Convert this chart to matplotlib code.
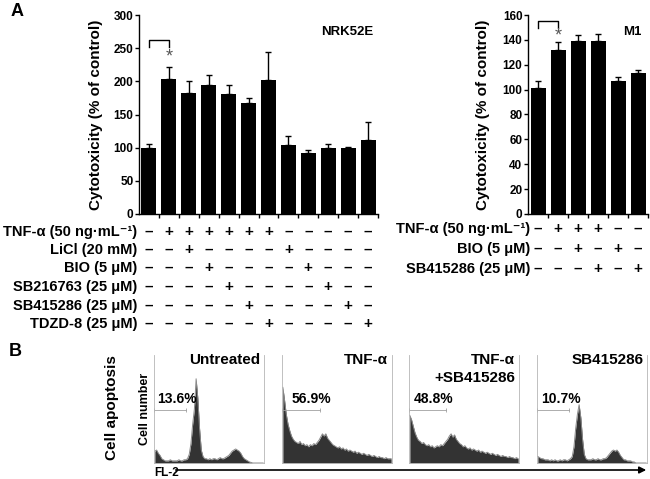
import matplotlib.pyplot as plt
import numpy as np
from matplotlib.transforms import blended_transform_factory

plt.rcParams['font.family'] = ['Liberation Sans', 'DejaVu Sans']

# panel A - NRK52E cells
nrk_vals = [100, 204, 183, 194, 181, 168, 202, 104, 92, 100, 100, 112]
nrk_err = [5, 18, 17, 15, 14, 7, 42, 14, 4, 5, 1, 26]
nrk_rows = ['TNF-α (50 ng·mL⁻¹)', 'LiCl (20 mM)', 'BIO (5 μM)',
            'SB216763 (25 μM)', 'SB415286 (25 μM)', 'TDZD-8 (25 μM)']
nrk_signs = ['-++++++-----',
             '--+----+----',
             '---+----+---',
             '----+----+--',
             '-----+----+-',
             '------+----+']

# panel A - M1 cells
m1_vals = [101, 132, 139, 139, 107, 113]
m1_err = [6, 6, 5, 6, 3, 3]
m1_rows = ['TNF-α (50 ng·mL⁻¹)', 'BIO (5 μM)', 'SB415286 (25 μM)']
m1_signs = ['-+++--',
            '--+-+-',
            '---+-+']

# panel B - FL-2 histograms (64 channels, % of panel height)
hist_titles = ['Untreated', 'TNF-α', 'TNF-α\n+SB415286', 'SB415286']
hist_pct = ['13.6%', '56.9%', '48.8%', '10.7%']
untreated = [11, 12, 9, 7, 4, 3, 2, 2, 2, 3, 2, 2, 2, 2, 3, 2, 2, 3, 3, 4,
             8, 18, 36, 50, 78, 60, 32, 12, 6, 4, 4, 3, 4, 3, 4, 4, 3, 4, 5, 4,
             4, 5, 6, 7, 9, 11, 12, 13, 12, 11, 9, 6, 4, 3, 2, 1, 0.5, 0, 0, 0,
             0, 0, 0, 0]
tnf = [70, 58, 45, 36, 30, 25, 22, 20, 19, 18, 20, 17, 18, 16, 17, 15, 17, 16, 18, 17,
       19, 21, 24, 27, 25, 27, 23, 21, 19, 17, 16, 15, 14, 15, 13, 14, 12, 13, 11, 12,
       11, 10, 11, 9, 10, 9, 8, 9, 8, 7, 8, 7, 6, 7, 6, 5, 6, 5, 5, 4,
       5, 4, 4, 4]
tnf_sb = [44, 40, 34, 28, 24, 21, 20, 18, 19, 17, 16, 17, 15, 16, 14, 15, 16, 15, 17, 16,
          18, 20, 22, 25, 27, 24, 26, 22, 20, 18, 17, 15, 16, 14, 13, 14, 12, 13, 12, 11,
          12, 10, 11, 10, 9, 10, 9, 8, 9, 8, 7, 8, 7, 6, 7, 6, 6, 5, 6, 5,
          5, 4, 5, 4]
sb_only = [6, 5, 4, 4, 3, 3, 3, 2, 3, 2, 3, 2, 2, 3, 2, 3, 3, 2, 3, 4,
           6, 15, 32, 45, 54, 42, 22, 8, 4, 3, 3, 3, 4, 3, 3, 4, 3, 3, 4, 4,
           5, 7, 9, 11, 12, 11, 12, 10, 7, 5, 3, 3, 2, 2, 2, 1, 1, 0, 0, 0,
           0, 0, 0, 0]
hist_data = [untreated, tnf, tnf_sb, sb_only]
gate_end = [0.29, 0.345, 0.34, 0.29]

W, H = 650, 479
fig = plt.figure(figsize=(6.5, 4.79), dpi=100)


def fx(px):
    return px / W


def fy(py):
    return 1 - py / H


def bar_panel(rect, vals, err, ymax, step, name, rows, signs, label_x, row_y, label_pos):
    ax = fig.add_axes(rect)
    x = np.arange(len(vals))
    ax.bar(x, vals, width=0.75, color='black')
    ax.errorbar(x, vals, yerr=[np.zeros(len(err)), err], fmt='none', ecolor='black',
                elinewidth=1, capsize=2.5, capthick=1)
    ax.set_xlim(-0.5, len(vals) - 0.55)
    ax.set_ylim(0, ymax)
    ax.set_yticks(np.arange(0, ymax + 1, step))
    ax.set_xticks(x + 0.5)
    ax.set_xticklabels([])
    for s in ['top', 'right']:
        ax.spines[s].set_visible(False)
    ax.spines['left'].set_linewidth(1)
    ax.spines['bottom'].set_linewidth(1)
    ax.tick_params(direction='out', length=3, width=1, labelsize=8.5, pad=1)
    for lbl in ax.get_yticklabels():
        lbl.set_fontweight('bold')
    ax.set_ylabel('Cytotoxicity (% of control)', fontsize=11, fontweight='bold')
    ax.yaxis.set_label_coords(label_pos, 0.5)
    ax.text(0.87, 0.915, name, transform=ax.transAxes, ha='center', va='center',
            fontsize=9.5, fontweight='bold')
    # treatment table
    tr = blended_transform_factory(ax.transData, fig.transFigure)
    for r, (lab, row) in enumerate(zip(rows, signs)):
        fig.text(fx(label_x), fy(row_y[r]), lab, ha='right', va='center',
                 fontsize=10.5, fontweight='bold')
        for i, c in enumerate(row):
            ax.text(i, fy(row_y[r]), '+' if c == '+' else '–', transform=tr,
                    ha='center', va='center', fontsize=11, fontweight='bold')
    return ax


ax1 = bar_panel([fx(139), fy(214), fx(239), 199 / H], nrk_vals, nrk_err, 300, 50,
                'NRK52E', nrk_rows, nrk_signs, 137, [232, 250, 268, 287, 306, 324], -0.15)
ax1.plot([0, 0, 1, 1], [252, 262, 262, 252], color='black', lw=1)
ax1.text(1, 236, '*', ha='center', va='center', fontsize=13, color='#555555')

ax2 = bar_panel([fx(528), fy(214), fx(120), 199 / H], m1_vals, m1_err, 160, 20,
                'M1', m1_rows, m1_signs, 530, [229, 249, 269], -0.32)
ax2.plot([0, 0, 1, 1], [149.5, 155, 155, 149.5], color='black', lw=1)
ax2.text(1, 143, '*', ha='center', va='center', fontsize=13, color='#555555')

fig.text(fx(17), fy(12), 'A', ha='center', va='center', fontsize=13, fontweight='bold')
fig.text(fx(15), fy(351), 'B', ha='center', va='center', fontsize=13, fontweight='bold')

# panel B
lefts = [154, 282, 409, 537]
pct_x = [0.03, 0.09, 0.04, 0.04]
for k, left in enumerate(lefts):
    ax = fig.add_axes([fx(left), fy(463), fx(110), 108 / H])
    counts = hist_data[k]
    xs = (np.arange(len(counts)) + 0.5) / len(counts)
    ax.fill_between(xs, counts, color='#333333', lw=0)
    ax.plot(xs, counts, color='#8a8a8a', lw=0.7)
    ax.set_xlim(0, 1)
    ax.set_ylim(0, 100)
    ax.set_xticks([])
    ax.set_yticks([])
    ax.spines['top'].set_visible(False)
    for s in ['left', 'bottom', 'right']:
        ax.spines[s].set_color('#b5b5b5')
        ax.spines[s].set_linewidth(0.6)
    ax.plot([0, gate_end[k]], [49, 49], color='#a0a0a0', lw=0.6)
    ax.plot([0, gate_end[k]], [49, 49], ls='none', marker='|', ms=3, color='#a0a0a0', mew=0.6)
    ax.text(pct_x[k], 0.59, hist_pct[k], transform=ax.transAxes, ha='left', va='center',
            fontsize=10, fontweight='bold')
    for j, line in enumerate(hist_titles[k].split('\n')):
        ax.text(0.965, 0.954 - 0.167 * j, line, transform=ax.transAxes, ha='right',
                va='center', fontsize=11, fontweight='bold')

fig.text(fx(112), fy(408), 'Cell apoptosis', rotation=90, ha='center', va='center',
         fontsize=11, fontweight='bold')
fig.text(fx(145), fy(409), 'Cell number', rotation=90, ha='center', va='center',
         fontsize=9, fontweight='bold')
fig.text(fx(154), fy(473), 'FL-2', ha='left', va='center', fontsize=8.5, fontweight='bold')
ax.annotate('', xy=(fx(649), fy(470)), xytext=(fx(173), fy(470)),
            xycoords='figure fraction', textcoords='figure fraction',
            arrowprops=dict(arrowstyle='-|>', lw=1.2, color='black', mutation_scale=10),
            annotation_clip=False)

fig.savefig('out.png', dpi=100)
